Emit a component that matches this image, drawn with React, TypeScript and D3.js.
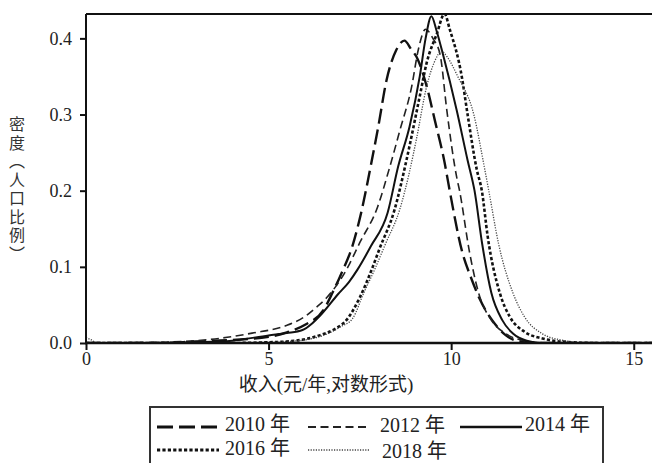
import React, { useRef, useEffect } from 'react';
import * as d3 from 'd3';

// density curves: [log income, share]
const density2010: [number, number][] = [
  [0, 0], [2, 0], [3, 0.002], [4, 0.004], [5, 0.008], [5.5, 0.014], [6, 0.024], [6.5, 0.043],
  [6.75, 0.066], [7.0, 0.092], [7.3, 0.128], [7.54, 0.172], [7.82, 0.238], [8.0, 0.283], [8.23, 0.345],
  [8.5, 0.385], [8.72, 0.397], [8.9, 0.386], [9.08, 0.373], [9.33, 0.337], [9.55, 0.293], [9.82, 0.237],
  [9.96, 0.2], [10.3, 0.12], [10.55, 0.085], [10.78, 0.058], [11.2, 0.025], [11.5, 0.01], [11.8, 0.003],
  [12.5, 0], [15.5, 0],
];
const density2012: [number, number][] = [
  [0, 0], [2, 0.001], [3, 0.003], [3.65, 0.006], [4.55, 0.013], [5.49, 0.023], [6.0, 0.035], [6.31, 0.047],
  [6.6, 0.06], [7.13, 0.096], [7.5, 0.132], [7.98, 0.178], [8.3, 0.228], [8.6, 0.28], [8.92, 0.337],
  [9.1, 0.385], [9.3, 0.412], [9.5, 0.4], [9.7, 0.378], [9.88, 0.306], [10.15, 0.218], [10.23, 0.2],
  [10.5, 0.12], [10.75, 0.066], [11.1, 0.03], [11.5, 0.012], [12, 0.003], [12.5, 0], [15.5, 0],
];
const density2014: [number, number][] = [
  [0, 0], [2, 0], [3, 0.001], [4, 0.003], [5.0, 0.01], [5.5, 0.013], [5.93, 0.017], [6.2, 0.026],
  [6.47, 0.039], [6.9, 0.064], [7.2, 0.08], [7.43, 0.096], [7.8, 0.127], [8.26, 0.171], [8.55, 0.232],
  [8.86, 0.284], [9.14, 0.35], [9.3, 0.4], [9.46, 0.429], [9.6, 0.41], [9.77, 0.38], [10.15, 0.306],
  [10.45, 0.24], [10.64, 0.2], [10.85, 0.13], [11.1, 0.066], [11.4, 0.03], [11.7, 0.012], [12.07, 0.003],
  [12.5, 0], [15.5, 0],
];
const density2016: [number, number][] = [
  [0, 0], [4, 0], [5, 0.001], [5.5, 0.002], [6.0, 0.005], [6.39, 0.01], [6.8, 0.018], [7.13, 0.03],
  [7.5, 0.06], [7.82, 0.096], [8.04, 0.124], [8.45, 0.175], [8.78, 0.241], [9.14, 0.324], [9.33, 0.368],
  [9.6, 0.405], [9.82, 0.432], [9.96, 0.412], [10.29, 0.35], [10.45, 0.3], [10.7, 0.228], [10.84, 0.2],
  [11.0, 0.14], [11.33, 0.066], [11.6, 0.035], [12.0, 0.015], [12.5, 0.006], [13.0, 0.002], [14, 0], [15.5, 0],
];
const density2018: [number, number][] = [
  [0, 0.007], [0.15, 0.004], [0.3, 0], [4, 0], [5, 0.001], [5.5, 0.002], [6, 0.004], [6.5, 0.01],
  [7.0, 0.022], [7.3, 0.032], [7.6, 0.065], [7.9, 0.096], [8.2, 0.13], [8.59, 0.175], [8.86, 0.225],
  [9.05, 0.268], [9.33, 0.337], [9.55, 0.37], [9.74, 0.383], [9.9, 0.375], [10.18, 0.35],
  [10.62, 0.3], [10.92, 0.228], [11.03, 0.2], [11.3, 0.13], [11.69, 0.066], [12.0, 0.035], [12.5, 0.012],
  [13.0, 0.004], [13.4, 0.001], [14, 0], [15.5, 0],
];

const legendLabels = ['2010 年', '2012 年', '2014 年', '2016 年', '2018 年'];
const xTicks = [0, 5, 10, 15];
const yTicks = [0, 0.1, 0.2, 0.3, 0.4];

const styles = [
  { dash: '15,6', width: 2.4, color: '#111' },
  { dash: '8,4.5', width: 1.6, color: '#222' },
  { dash: null, width: 2, color: '#111' },
  { dash: '3.2,2.2', width: 2.6, color: '#111' },
  { dash: '1.2,1.4', width: 1.3, color: '#444' },
];

const App = () => {
  const ref = useRef<SVGSVGElement>(null);

  useEffect(() => {
    const svg = d3.select(ref.current);
    svg.selectAll('*').remove();

    const margin = { top: 14, right: 0, bottom: 120, left: 86 };
    const W = 652, H = 463;
    const width = W - margin.left - margin.right;
    const height = H - margin.top - margin.bottom;
    const serif = '"Liberation Serif", "Noto Sans CJK SC", serif';

    const x = d3.scaleLinear().domain([0, 15.5]).range([0, width]);
    const y = d3.scaleLinear().domain([0, 0.432]).range([height, 0]);

    svg.append('rect').attr('width', W).attr('height', H).attr('fill', '#fff');

    const defs = svg.append('defs');
    defs.append('clipPath').attr('id', 'plotclip')
      .append('rect').attr('x', 0).attr('y', 0).attr('width', width).attr('height', height);

    const g = svg.append('g').attr('transform', `translate(${margin.left},${margin.top})`);

    const line = d3.line<[number, number]>()
      .x(d => x(d[0]))
      .y(d => y(d[1]))
      .curve(d3.curveMonotoneX);

    const series = [density2010, density2012, density2014, density2016, density2018];
    const curves = g.append('g').attr('clip-path', 'url(#plotclip)');
    series.forEach((s, i) => {
      const st = styles[i];
      curves.append('path')
        .datum(s)
        .attr('fill', 'none')
        .attr('stroke', st.color)
        .attr('stroke-width', st.width)
        .attr('stroke-dasharray', st.dash)
        .attr('d', line);
    });

    // axes
    const xAxis = g.append('g')
      .attr('transform', `translate(0,${height})`)
      .call(d3.axisBottom(x).tickValues(xTicks).tickFormat(d3.format('d')).tickSize(7).tickPadding(2));
    xAxis.attr('font-family', null).attr('font-size', null);
    xAxis.select('.domain').remove();
    xAxis.selectAll('line').attr('stroke', '#111').attr('stroke-width', 2);
    xAxis.selectAll('text').style('font-family', serif).style('font-size', '18px').attr('fill', '#222');

    const yAxis = g.append('g')
      .call(d3.axisLeft(y).tickValues(yTicks).tickFormat(d3.format('.1f')).tickSize(6).tickPadding(8));
    yAxis.attr('font-family', null).attr('font-size', null);
    yAxis.select('.domain').remove();
    yAxis.selectAll('line').attr('stroke', '#111').attr('stroke-width', 2);
    yAxis.selectAll('text').style('font-family', serif).style('font-size', '18px').attr('fill', '#222');

    g.append('line').attr('x1', 0).attr('x2', width).attr('y1', 0).attr('y2', 0)
      .attr('stroke', '#111').attr('stroke-width', 2);
    g.append('line').attr('x1', 0).attr('x2', 0).attr('y1', 0).attr('y2', height)
      .attr('stroke', '#111').attr('stroke-width', 2);
    g.append('line').attr('x1', -1).attr('x2', width).attr('y1', height).attr('y2', height)
      .attr('stroke', '#111').attr('stroke-width', 2.5);

    // axis titles
    svg.append('text')
      .attr('x', 326).attr('y', 391)
      .attr('text-anchor', 'middle')
      .style('font-family', serif).style('font-size', '19px').attr('fill', '#222')
      .text('收入(元/年,对数形式)');

    svg.append('text')
      .attr('x', 17).attr('y', 190)
      .attr('text-anchor', 'middle')
      .style('writing-mode', 'vertical-rl')
      .style('letter-spacing', '2.5px')
      .style('font-family', '"Noto Sans CJK SC", serif').style('font-size', '16px')
      .attr('fill', '#333')
      .text('密度（人口比例）');

    // legend
    const lg = svg.append('g');
    lg.append('rect').attr('x', 150).attr('y', 407).attr('width', 453).attr('height', 70)
      .attr('fill', '#fff').attr('stroke', '#333').attr('stroke-width', 2);
    const slots = [
      { lx: 157, tx: 225, ly: 427, ty: 431 },
      { lx: 308, tx: 380, ly: 427, ty: 432 },
      { lx: 460, tx: 525, ly: 427, ty: 431 },
      { lx: 157, tx: 225, ly: 450, ty: 455 },
      { lx: 308, tx: 382, ly: 450, ty: 458 },
    ];
    legendLabels.forEach((lab, i) => {
      const st = styles[i];
      const s = slots[i];
      lg.append('line')
        .attr('x1', s.lx).attr('x2', s.lx + 62).attr('y1', s.ly).attr('y2', s.ly)
        .attr('stroke', st.color).attr('stroke-width', st.width + 0.4)
        .attr('stroke-dasharray', i === 0 ? '16,6' : st.dash);
      lg.append('text')
        .attr('x', s.tx).attr('y', s.ty)
        .style('font-family', serif).style('font-size', '20px').attr('fill', '#222')
        .text(lab);
    });
  }, []);

  return <svg ref={ref} width={652} height={463} style={{ position: 'absolute', left: 0, top: 0 }}></svg>;
};

export default App;
